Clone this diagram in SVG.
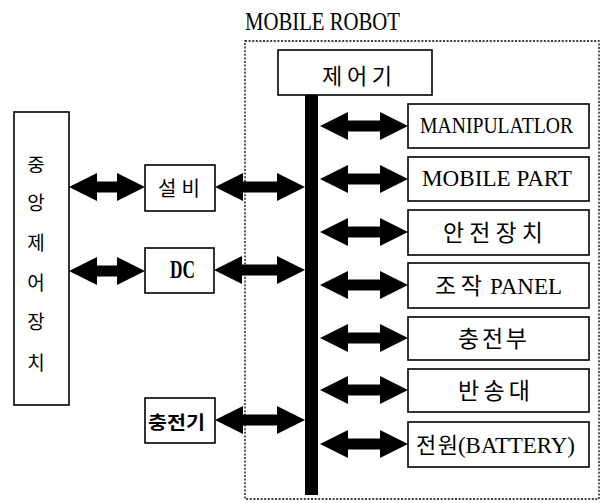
<svg xmlns="http://www.w3.org/2000/svg" width="607" height="503" viewBox="0 0 607 503">
<style>
.box{fill:#fff;stroke:#000;stroke-width:1.6}
.dot{fill:none;stroke:#000;stroke-width:1.3;stroke-dasharray:2 1.6}
.kr{font-family:"Noto Sans CJK KR","Noto Sans",sans-serif;fill:#000}
.lat{font-family:"Liberation Serif","DejaVu Serif",serif;fill:#000}
.arr{stroke:#000;stroke-width:11;fill:none;marker-start:url(#ah);marker-end:url(#ah)}
</style>
<defs>
<marker id="ah" markerUnits="userSpaceOnUse" markerWidth="28" markerHeight="28" viewBox="0 0 28 28" refX="0" refY="14" orient="auto-start-reverse">
<path d="M0,0 L28,14 L0,28 z" fill="#000"/>
</marker>
</defs>
<g id="mobile-robot">
<rect class="dot" x="245" y="41" width="354" height="458"/>
<text class="lat" x="245" y="30" font-size="25" textLength="155" lengthAdjust="spacingAndGlyphs">MOBILE ROBOT</text>
</g>
<g id="central">
<rect class="box" x="14" y="112" width="55" height="293"/>
<g class="kr" font-size="19" text-anchor="middle">
<text x="36" y="172">중</text>
<text x="36" y="210">앙</text>
<text x="36" y="250">제</text>
<text x="36" y="290">어</text>
<text x="36" y="329">장</text>
<text x="36" y="370">치</text>
</g>
</g>
<g id="controller">
<rect class="box" x="278" y="50" width="154" height="45"/>
<text class="kr" x="322" y="84" font-size="22" textLength="70" lengthAdjust="spacing">제어기</text>
</g>
<g id="bus">
<rect x="305" y="95" width="13" height="400" fill="#000"/>
</g>
<g id="seolbi">
<rect class="box" x="145" y="165" width="70" height="46"/>
<text class="kr" x="158" y="196" font-size="20" textLength="42" lengthAdjust="spacing">설비</text>
</g>
<g id="dc">
<rect class="box" x="145" y="248" width="69" height="45"/>
<text class="lat" x="170" y="278" font-size="26" font-weight="bold" textLength="25" lengthAdjust="spacingAndGlyphs">DC</text>
</g>
<g id="charger">
<rect class="box" x="145" y="398" width="70" height="45"/>
<text class="kr" x="148" y="429" font-size="18" font-weight="bold" textLength="57" lengthAdjust="spacingAndGlyphs">충전기</text>
</g>
<g id="manipulator">
<rect class="box" x="408" y="104" width="181" height="44"/>
<text class="lat" x="420" y="133" font-size="24" textLength="153" lengthAdjust="spacingAndGlyphs">MANIPULATLOR</text>
</g>
<g id="mobile-part">
<rect class="box" x="408" y="157" width="181" height="44"/>
<text class="lat" x="422" y="186" font-size="24" textLength="150" lengthAdjust="spacingAndGlyphs">MOBILE PART</text>
</g>
<g id="safety">
<rect class="box" x="408" y="210" width="181" height="45"/>
<text class="kr" x="443" y="241" font-size="23" textLength="100" lengthAdjust="spacing">안전장치</text>
</g>
<g id="panel">
<rect class="box" x="408" y="263" width="181" height="45"/>
<text class="kr" x="435" y="294" font-size="23" textLength="47" lengthAdjust="spacing">조작</text>
<text class="lat" x="490" y="294" font-size="24" textLength="72" lengthAdjust="spacingAndGlyphs">PANEL</text>
</g>
<g id="charging">
<rect class="box" x="408" y="317" width="181" height="43"/>
<text class="kr" x="458" y="347" font-size="23" textLength="69" lengthAdjust="spacing">충전부</text>
</g>
<g id="carrier">
<rect class="box" x="408" y="369" width="181" height="43"/>
<text class="kr" x="458" y="399" font-size="23" textLength="72" lengthAdjust="spacing">반송대</text>
</g>
<g id="battery">
<rect class="box" x="408" y="422" width="181" height="45"/>
<text class="kr" x="416" y="453" font-size="22" textLength="42" lengthAdjust="spacing">전원</text>
<text class="lat" x="458" y="453" font-size="24" textLength="117" lengthAdjust="spacingAndGlyphs">(BATTERY)</text>
</g>
<g id="connectors">
<line class="arr" x1="97" y1="187" x2="117" y2="187"/>
<line class="arr" x1="97" y1="271" x2="117" y2="271"/>
<line class="arr" x1="243" y1="187" x2="277" y2="187"/>
<line class="arr" x1="242" y1="270" x2="277" y2="270"/>
<line class="arr" x1="243" y1="420" x2="277" y2="420"/>
<line class="arr" x1="348" y1="126" x2="380" y2="126"/>
<line class="arr" x1="348" y1="179" x2="380" y2="179"/>
<line class="arr" x1="348" y1="232" x2="380" y2="232"/>
<line class="arr" x1="348" y1="285" x2="380" y2="285"/>
<line class="arr" x1="348" y1="338" x2="380" y2="338"/>
<line class="arr" x1="348" y1="390" x2="380" y2="390"/>
<line class="arr" x1="348" y1="444" x2="380" y2="444"/>
</g>
</svg>
